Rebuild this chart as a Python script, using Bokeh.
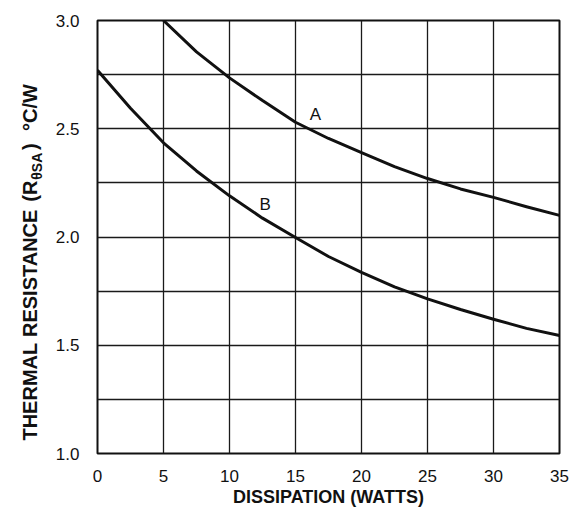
from math import pi

from bokeh.core.properties import value
from bokeh.embed import file_html
from bokeh.layouts import row
from bokeh.models import FixedTicker, Range1d
from bokeh.plotting import figure
from bokeh.resources import INLINE

# Heat-sink thermal resistance vs. power dissipation
dissipation_a = [5, 7.5, 10, 12.5, 15, 17.5, 20, 22.5, 25, 27.5, 30, 32.5, 35]
resistance_a = [3.0, 2.855, 2.735, 2.63, 2.53, 2.455, 2.39, 2.325, 2.27, 2.222, 2.183, 2.14, 2.10]

dissipation_b = [0, 2.5, 5, 7.5, 10, 12.5, 15, 17.5, 20, 22.5, 25, 27.5, 30, 32.5, 35]
resistance_b = [2.77, 2.595, 2.435, 2.305, 2.19, 2.087, 1.998, 1.91, 1.837, 1.77, 1.714,
                1.665, 1.62, 1.578, 1.545]

x_ticks = [0, 5, 10, 15, 20, 25, 30, 35]
y_ticks = [1.0, 1.5, 2.0, 2.5, 3.0]
y_grid = [1.0, 1.25, 1.5, 1.75, 2.0, 2.25, 2.5, 2.75, 3.0]
y_tick_labels = {1.0: "1.0", 1.5: "1.5", 2.0: "2.0", 2.5: "2.5", 3.0: "3.0"}

curve_labels = ["A", "B"]
curve_label_x = [16.5, 12.7]
curve_label_y = [2.565, 2.148]

# y-axis title pieces: text, font size, baseline offset, start offset (px from bottom)
title_parts = ["THERMAL", "RESISTANCE", "(R", "\u03b8SA", ")", "\u00b0C/W"]
title_sizes = ["20px", "20px", "20px", "14px", "20px", "20px"]
title_base = [29, 29, 29, 36, 29, 29]
title_start = [67, 171, 307, 329, 359, 378]

FONT = "Liberation Sans"
INK = "#111111"
H = 509
TITLE_W = 46
BORDER_TOP = 20
BORDER_BOTTOM = 54

# narrow strip holding the rotated y-axis title; its frame lines up with the
# main frame, so its y range is given in pixels from the bottom of the canvas
strip = figure(
    width=TITLE_W, height=H,
    x_range=Range1d(0, TITLE_W), y_range=Range1d(BORDER_BOTTOM, H - BORDER_TOP),
    output_backend="svg", toolbar_location=None,
    x_axis_location=None, y_axis_location=None,
    min_border_left=0, min_border_right=0,
    min_border_top=BORDER_TOP, min_border_bottom=BORDER_BOTTOM,
    outline_line_color=None,
    background_fill_color="white", border_fill_color="white",
)
strip.grid.visible = False
for txt, size, bx, sy in zip(title_parts, title_sizes, title_base, title_start):
    strip.text(x=[bx], y=[sy], text=[txt], angle=pi / 2,
               text_font=value(FONT), text_font_size=size, text_font_style="bold",
               text_color=INK, text_align="left", text_baseline="alphabetic")

p = figure(
    width=571 - TITLE_W, height=H,
    x_range=Range1d(0, 35), y_range=Range1d(1.0, 3.0),
    output_backend="svg", toolbar_location=None,
    min_border_left=97 - TITLE_W, min_border_right=12,
    min_border_top=BORDER_TOP, min_border_bottom=BORDER_BOTTOM,
    background_fill_color="white", border_fill_color="white",
)

p.outline_line_color = INK
p.outline_line_width = 2

# grid
p.xgrid.ticker = FixedTicker(ticks=x_ticks)
p.ygrid.ticker = FixedTicker(ticks=y_grid)
for g in (p.xgrid, p.ygrid):
    g.grid_line_color = "#1a1a1a"
    g.grid_line_width = 1.3
    g.grid_line_alpha = 1.0

# axes: labels only, no tick marks
p.xaxis.ticker = FixedTicker(ticks=x_ticks)
p.yaxis.ticker = FixedTicker(ticks=y_ticks)
p.yaxis.major_label_overrides = y_tick_labels
for ax in (p.xaxis, p.yaxis):
    ax.axis_line_color = None
    ax.major_tick_line_color = None
    ax.minor_tick_line_color = None
    ax.major_label_text_font = FONT
    ax.major_label_text_font_size = "17px"
    ax.major_label_text_color = INK
p.xaxis.major_label_standoff = 10
p.yaxis.major_label_standoff = 12

p.xaxis.axis_label = "DISSIPATION (WATTS)"
p.xaxis.axis_label_text_font = FONT
p.xaxis.axis_label_text_font_size = "18px"
p.xaxis.axis_label_text_font_style = "bold"
p.xaxis.axis_label_text_color = INK
p.xaxis.axis_label_standoff = 2

# curves
p.line(dissipation_a, resistance_a, line_color=INK, line_width=3, line_join="round")
p.line(dissipation_b, resistance_b, line_color=INK, line_width=3, line_join="round")

p.text(x=curve_label_x, y=curve_label_y, text=curve_labels,
       text_font=value(FONT), text_font_size="17px", text_color=INK,
       text_align="center", text_baseline="middle")

layout = row(strip, p, spacing=0)
open("out.html", "w").write(file_html(layout, INLINE))
